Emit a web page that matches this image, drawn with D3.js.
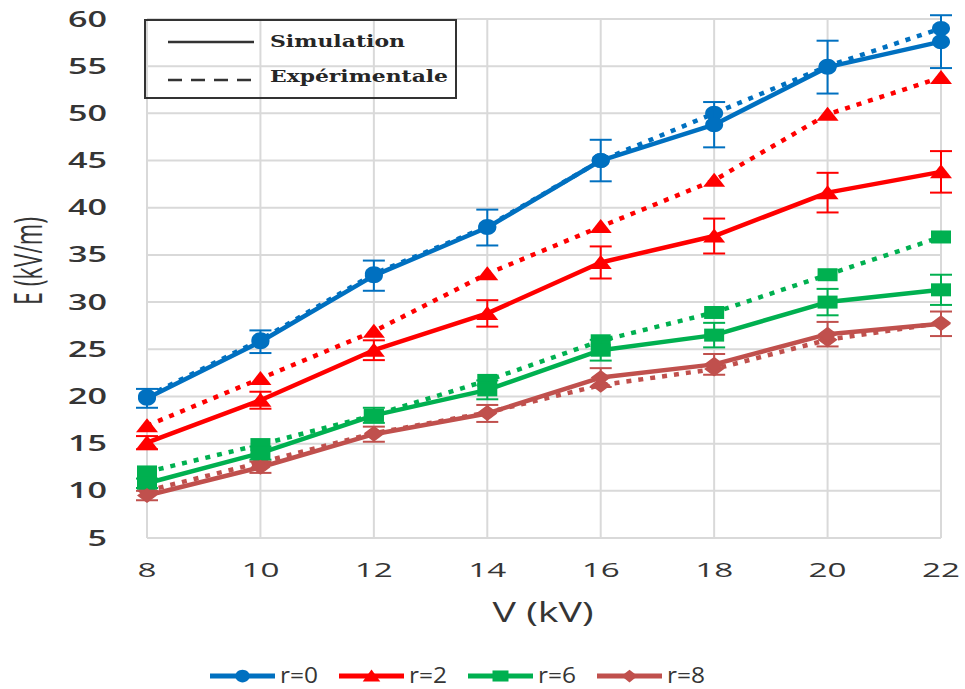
<!DOCTYPE html>
<html>
<head>
<meta charset="utf-8">
<script src="https://cdn.jsdelivr.net/npm/d3@7"></script>
<style>
  body { margin: 0; background: #fff; }
  svg { display: block; }
</style>
</head>
<body>
<svg id="chart" width="965" height="689"></svg>
<script>
// Applied voltage (kV)
const voltages = [8, 10, 12, 14, 16, 18, 20, 22];

// Field E (kV/m) for each electrode spacing r
const seriesNames = ["r=0", "r=2", "r=6", "r=8"];
const simR0 = [19.8, 25.8, 32.8, 37.9, 45.0, 48.8, 54.9, 57.6];
const expR0 = [20.0, 26.0, 33.0, 38.0, 45.0, 50.0, 55.0, 59.0];
const errR0 = [1.0, 1.2, 1.6, 1.9, 2.2, 2.4, 2.8, 2.8];

const simR2 = [15.1, 19.6, 24.9, 28.8, 34.2, 37.0, 41.6, 43.8];
const expR2 = [16.9, 21.9, 26.9, 33.0, 38.0, 42.9, 49.9, 53.8];
const errR2 = [0.7, 0.9, 1.05, 1.4, 1.7, 1.85, 2.1, 2.2];

const simR6 = [10.8, 14.0, 18.0, 20.7, 24.9, 26.5, 30.0, 31.3];
const expR6 = [12.0, 14.9, 18.0, 21.7, 25.9, 28.9, 32.9, 36.9];
const errR6 = [0.5, 0.7, 0.8, 1.0, 1.1, 1.3, 1.4, 1.6];

const simR8 = [9.5, 12.5, 16.0, 18.2, 22.0, 23.4, 26.6, 27.7];
const expR8 = [10.0, 13.0, 16.1, 18.3, 21.2, 22.9, 26.0, 27.8];
const errR8 = [0.5, 0.6, 0.8, 0.9, 1.0, 1.1, 1.3, 1.3];

const yTicks = [5, 10, 15, 20, 25, 30, 35, 40, 45, 50, 55, 60];
const xTicks = voltages;
const xTitle = "V (kV)";
const yTitle = "E (kV/m)";
const styleLabels = ["Simulation", "Expérimentale"];

const colors = ["#0070C0", "#FF0000", "#00B050", "#C0504D"];
const shapes = ["circle", "triangle", "square", "diamond"];

const series = seriesNames.map((name, i) => ({
  name,
  color: colors[i],
  shape: shapes[i],
  sim: [simR0, simR2, simR6, simR8][i],
  exp: [expR0, expR2, expR6, expR8][i],
  err: [errR0, errR2, errR6, errR8][i]
}));

const svg = d3.select("#chart");
const x = d3.scaleLinear().domain([8, 22]).range([147, 941]);
const y = d3.scaleLinear().domain([5, 60]).range([538, 19]);

const textColor = "#353535";
const gridColor = "#d9d9d9";

// Marker outline built to a given width / height
function markerPath(shape, w, h) {
  const p = d3.path();
  const hw = w / 2, hh = h / 2;
  if (shape === "circle") {
    // ellipse approximated with cubic curves
    const k = 0.5523;
    p.moveTo(hw, 0);
    p.bezierCurveTo(hw, k * hh, k * hw, hh, 0, hh);
    p.bezierCurveTo(-k * hw, hh, -hw, k * hh, -hw, 0);
    p.bezierCurveTo(-hw, -k * hh, -k * hw, -hh, 0, -hh);
    p.bezierCurveTo(k * hw, -hh, hw, -k * hh, hw, 0);
  } else if (shape === "triangle") {
    p.moveTo(0, -hh - 1);
    p.lineTo(hw, hh);
    p.lineTo(-hw, hh);
  } else if (shape === "square") {
    p.rect(-hw, -hh, w, h);
  } else {
    p.moveTo(0, -hh);
    p.lineTo(hw, 0);
    p.lineTo(0, hh);
    p.lineTo(-hw, 0);
  }
  p.closePath();
  return p.toString();
}
const markerSize = {
  circle: [18, 15],
  triangle: [22, 13],
  square: [20, 13],
  diamond: [20, 15]
};

// Grid
const grid = svg.append("g");
grid.selectAll("line.h").data(yTicks).join("line")
  .attr("x1", x(8)).attr("x2", x(22))
  .attr("y1", d => y(d)).attr("y2", d => y(d))
  .attr("stroke", gridColor).attr("stroke-width", 2);
grid.selectAll("line.v").data(xTicks).join("line")
  .attr("x1", d => x(d)).attr("x2", d => x(d))
  .attr("y1", y(60)).attr("y2", y(5))
  .attr("stroke", gridColor).attr("stroke-width", 2);

// Y tick labels
svg.append("g").selectAll("text").data(yTicks).join("text")
  .attr("x", 107).attr("y", d => y(d) + 7.5)
  .attr("text-anchor", "end")
  .attr("font-family", "'Open Sans', sans-serif")
  .attr("font-size", 21).attr("font-weight", 600)
  .attr("fill", textColor)
  .attr("textLength", d => String(d).length * 19.5)
  .attr("lengthAdjust", "spacingAndGlyphs")
  .text(d => d);

// X tick labels
svg.append("g").selectAll("text").data(xTicks).join("text")
  .attr("x", d => x(d)).attr("y", 577)
  .attr("text-anchor", "middle")
  .attr("font-family", "'Open Sans', sans-serif")
  .attr("font-size", 20)
  .attr("fill", textColor)
  .attr("textLength", d => String(d).length * 19)
  .attr("lengthAdjust", "spacingAndGlyphs")
  .text(d => d);

// Axis titles
svg.append("text")
  .attr("x", 543).attr("y", 622)
  .attr("text-anchor", "middle")
  .attr("font-family", "'Open Sans', sans-serif")
  .attr("font-size", 27)
  .attr("fill", textColor)
  .attr("textLength", 101).attr("lengthAdjust", "spacingAndGlyphs")
  .text(xTitle);

svg.append("g")
  .attr("transform", "translate(42,261) scale(1.35,1)")
  .append("text")
  .attr("transform", "rotate(-90)")
  .attr("text-anchor", "middle")
  .attr("font-family", "'Open Sans', sans-serif")
  .attr("font-size", 28)
  .attr("fill", textColor)
  .attr("textLength", 88).attr("lengthAdjust", "spacingAndGlyphs")
  .text(yTitle);

const line = d3.line().x((d, i) => x(voltages[i])).y(d => y(d));

// Experimental curves (dotted)
const expG = svg.append("g");
series.forEach(s => {
  expG.append("path")
    .attr("d", line(s.exp))
    .attr("fill", "none")
    .attr("stroke", s.color)
    .attr("stroke-width", 4.5)
    .attr("stroke-dasharray", "5,7");
  expG.selectAll(null).data(s.exp).join("path")
    .attr("transform", (d, i) => `translate(${x(voltages[i])},${y(d)})`)
    .attr("d", markerPath(s.shape, ...markerSize[s.shape]))
    .attr("fill", s.color);
});

// Simulated curves (solid) with error bars
const simG = svg.append("g");
series.forEach(s => {
  simG.append("path")
    .attr("d", line(s.sim))
    .attr("fill", "none")
    .attr("stroke", s.color)
    .attr("stroke-width", 4.5)
    .attr("stroke-linejoin", "round");
  const eb = simG.append("g").attr("stroke", s.color).attr("stroke-width", 2);
  s.sim.forEach((v, i) => {
    const cx = x(voltages[i]);
    const y1 = y(v + s.err[i]), y2 = y(v - s.err[i]);
    eb.append("line").attr("x1", cx).attr("x2", cx).attr("y1", y1).attr("y2", y2);
    eb.append("line").attr("x1", cx - 11).attr("x2", cx + 11).attr("y1", y1).attr("y2", y1);
    eb.append("line").attr("x1", cx - 11).attr("x2", cx + 11).attr("y1", y2).attr("y2", y2);
  });
  simG.selectAll(null).data(s.sim).join("path")
    .attr("transform", (d, i) => `translate(${x(voltages[i])},${y(d)})`)
    .attr("d", markerPath(s.shape, ...markerSize[s.shape]))
    .attr("fill", s.color);
});

// Line-style key (top left)
const key = svg.append("g");
key.append("rect")
  .attr("x", 145).attr("y", 20).attr("width", 311).attr("height", 78)
  .attr("fill", "none").attr("stroke", "#333").attr("stroke-width", 2);
key.append("line")
  .attr("x1", 168).attr("x2", 254).attr("y1", 42).attr("y2", 42)
  .attr("stroke", "#333").attr("stroke-width", 2.5);
key.append("line")
  .attr("x1", 168).attr("x2", 254).attr("y1", 80).attr("y2", 80)
  .attr("stroke", "#333").attr("stroke-width", 2.5)
  .attr("stroke-dasharray", "14,9");
key.selectAll("text").data(styleLabels).join("text")
  .attr("x", 270).attr("y", (d, i) => i === 0 ? 47 : 82)
  .attr("font-family", "'DejaVu Serif', serif")
  .attr("font-size", 16).attr("font-weight", "bold")
  .attr("fill", "#262626")
  .attr("textLength", (d, i) => i === 0 ? 135 : 178)
  .attr("lengthAdjust", "spacingAndGlyphs")
  .text(d => d);

// Series legend (bottom)
const leg = svg.append("g");
series.forEach((s, i) => {
  const x0 = 210 + i * 129;
  leg.append("line")
    .attr("x1", x0).attr("x2", x0 + 65).attr("y1", 676).attr("y2", 676)
    .attr("stroke", s.color).attr("stroke-width", 5);
  const [w, h] = markerSize[s.shape];
  leg.append("path")
    .attr("transform", `translate(${x0 + 32.5},676)`)
    .attr("d", markerPath(s.shape, w * 0.8, h * 0.85))
    .attr("fill", s.color);
  leg.append("text")
    .attr("x", x0 + 70).attr("y", 683)
    .attr("font-family", "'Open Sans', sans-serif")
    .attr("font-size", 21)
    .attr("fill", textColor)
    .attr("textLength", 38).attr("lengthAdjust", "spacingAndGlyphs")
    .text(s.name);
});
</script>
</body>
</html>
